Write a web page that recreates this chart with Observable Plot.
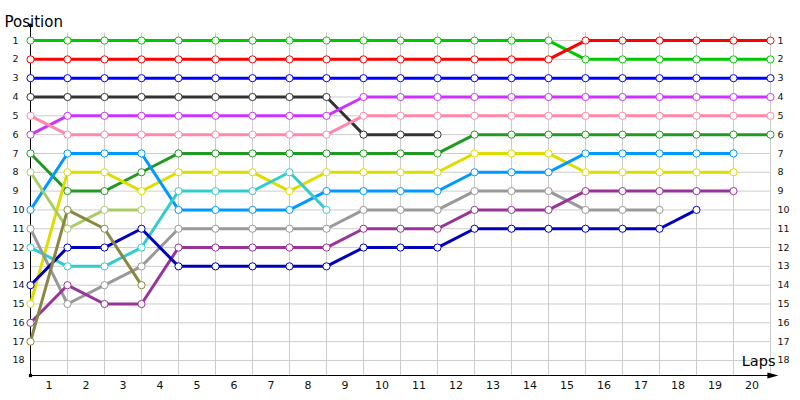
<!DOCTYPE html>
<html>
<head>
<meta charset="utf-8">
<script src="https://cdn.jsdelivr.net/npm/d3@7"></script>
<script src="https://cdn.jsdelivr.net/npm/@observablehq/plot@0.6"></script>
<style>
  html, body { margin: 0; padding: 0; background: white; }
  #chart svg { display: block; }
</style>
</head>
<body>
<div id="chart"></div>
<script>
// Laps (x) and positions (y)
const laps = [0, 1, 2, 3, 4, 5, 6, 7, 8, 9, 10, 11, 12, 13, 14, 15, 16, 17, 18, 19, 20];
const lapLabels = [1, 2, 3, 4, 5, 6, 7, 8, 9, 10, 11, 12, 13, 14, 15, 16, 17, 18, 19, 20];
const positionTicks = [1, 2, 3, 4, 5, 6, 7, 8, 9, 10, 11, 12, 13, 14, 15, 16, 17, 18];

// Drivers and colours
const drivers = ["green", "red", "blue", "black", "magenta", "pink", "darkgreen", "yellow",
                 "sky", "teal", "gray", "purple", "navy", "lightolive", "olive"];
const driverColors = ["#00c800", "#ff0000", "#0000ff", "#333333", "#cc33ff", "#ff88aa", "#229922", "#dddd00",
                      "#0099ff", "#33cccc", "#999999", "#993399", "#0000bb", "#aacc66", "#888844"];

// Positions per lap (lap 0 .. lap 20); null = no longer running
const posGreen      = [1, 1, 1, 1, 1, 1, 1, 1, 1, 1, 1, 1, 1, 1, 1, 2, 2, 2, 2, 2, 2];
const posRed        = [2, 2, 2, 2, 2, 2, 2, 2, 2, 2, 2, 2, 2, 2, 2, 1, 1, 1, 1, 1, 1];
const posBlue       = [3, 3, 3, 3, 3, 3, 3, 3, 3, 3, 3, 3, 3, 3, 3, 3, 3, 3, 3, 3, 3];
const posBlack      = [4, 4, 4, 4, 4, 4, 4, 4, 4, 6, 6, 6, null, null, null, null, null, null, null, null, null];
const posMagenta    = [6, 5, 5, 5, 5, 5, 5, 5, 5, 4, 4, 4, 4, 4, 4, 4, 4, 4, 4, 4, 4];
const posPink       = [5, 6, 6, 6, 6, 6, 6, 6, 6, 5, 5, 5, 5, 5, 5, 5, 5, 5, 5, 5, 5];
const posDarkGreen  = [7, 9, 9, 8, 7, 7, 7, 7, 7, 7, 7, 7, 6, 6, 6, 6, 6, 6, 6, 6, 6];
const posYellow     = [15, 8, 8, 9, 8, 8, 8, 9, 8, 8, 8, 8, 7, 7, 7, 8, 8, 8, 8, 8, null];
const posSky        = [10, 7, 7, 7, 10, 10, 10, 10, 9, 9, 9, 9, 8, 8, 8, 7, 7, 7, 7, 7, null];
const posTeal       = [12, 13, 13, 12, 9, 9, 9, 8, 10, null, null, null, null, null, null, null, null, null, null, null, null];
const posGray       = [11, 15, 14, 13, 11, 11, 11, 11, 11, 10, 10, 10, 9, 9, 9, 10, 10, 10, null, null, null];
const posPurple     = [16, 14, 15, 15, 12, 12, 12, 12, 12, 11, 11, 11, 10, 10, 10, 9, 9, 9, 9, 9, null];
const posNavy       = [14, 12, 12, 11, 13, 13, 13, 13, 13, 12, 12, 12, 11, 11, 11, 11, 11, 11, 10, null, null];
const posLightOlive = [8, 11, 10, 10, null, null, null, null, null, null, null, null, null, null, null, null, null, null, null, null, null];
const posOlive      = [17, 10, 11, 14, null, null, null, null, null, null, null, null, null, null, null, null, null, null, null, null, null];

const series = [posGreen, posRed, posBlue, posBlack, posMagenta, posPink, posDarkGreen, posYellow,
                posSky, posTeal, posGray, posPurple, posNavy, posLightOlive, posOlive];

const rows = [];
series.forEach((vals, i) => {
  vals.forEach((p, j) => {
    if (p != null) rows.push({driver: drivers[i], lap: laps[j], pos: p});
  });
});

const arrowHead = {
  draw(context) {
    context.moveTo(6, 0);
    context.lineTo(-5, -3);
    context.lineTo(-5, 3);
    context.closePath();
  }
};

const yTop = 0.2, yBottom = 18.8;

const chart = Plot.plot({
  width: 800,
  height: 400,
  marginLeft: 30,
  marginRight: 30,
  marginTop: 25,
  marginBottom: 25,
  x: {domain: [0, 20], axis: null},
  y: {domain: [yTop, yBottom], reverse: true, axis: null},
  color: {domain: drivers, range: driverColors},
  style: {fontFamily: "DejaVu Sans", background: "white", overflow: "visible"},
  marks: [
    // grid
    Plot.ruleY(positionTicks, {y: d => d, x1: 0, x2: 20, stroke: "#cccccc", strokeWidth: 1}),
    Plot.ruleX(lapLabels, {x: d => d, y1: 0.6, y2: yBottom, stroke: "#cccccc", strokeWidth: 1}),
    // axes
    Plot.ruleX([0], {y1: yTop, y2: yBottom, stroke: "black", strokeWidth: 1}),
    Plot.ruleY([yBottom], {x1: 0, x2: 20.1, stroke: "black", strokeWidth: 1}),
    Plot.dot([0], {x: 0, y: yTop, r: 2, fill: "black", stroke: "none"}),
    Plot.dot([0], {x: 0, y: yBottom, symbol: "square", r: 1.8, fill: "black", stroke: "none"}),
    Plot.dot([0], {x: 20.05, y: yBottom, symbol: arrowHead, fill: "black", stroke: "none"}),
    // lines and points
    Plot.line(rows, {x: "lap", y: "pos", z: "driver", stroke: "driver", strokeWidth: 3, curve: "linear"}),
    Plot.dot(rows, {x: "lap", y: "pos", stroke: "driver", fill: "white", r: 3.6, strokeWidth: 1}),
    // tick labels
    Plot.text(positionTicks, {y: d => d, text: d => String(d), frameAnchor: "left", dx: -18, textAnchor: "start", fontSize: 9.5, fill: "#111"}),
    Plot.text(positionTicks, {y: d => d, text: d => String(d), frameAnchor: "right", dx: 7, textAnchor: "start", fontSize: 9.5, fill: "#111"}),
    Plot.text(lapLabels, {x: d => d - 0.5, text: d => String(d), frameAnchor: "bottom", dy: 13, fontSize: 11, fill: "#111"}),
    // axis titles
    Plot.text(["Position"], {frameAnchor: "top-left", dx: -26, dy: -9, textAnchor: "start", fontSize: 15, fill: "#000"}),
    Plot.text(["Laps"], {frameAnchor: "bottom-right", dx: 5, dy: -9.5, textAnchor: "end", fontSize: 14.5, fill: "#000"})
  ]
});

document.getElementById("chart").appendChild(chart);
</script>
</body>
</html>
